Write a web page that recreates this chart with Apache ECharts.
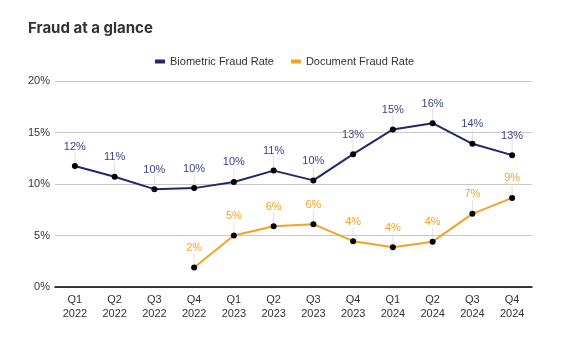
<!DOCTYPE html>
<html><head><meta charset="utf-8">
<script src="https://cdn.jsdelivr.net/npm/echarts@6/dist/echarts.min.js"></script>
<style>html,body{margin:0;padding:0;background:#fff}#c{width:576px;height:339px}</style>
</head><body><div id="c"></div>
<script>
const categories = ['Q1\n2022','Q2\n2022','Q3\n2022','Q4\n2022','Q1\n2023','Q2\n2023','Q3\n2023','Q4\n2023','Q1\n2024','Q2\n2024','Q3\n2024','Q4\n2024'];
const biometric = [11.75, 10.7, 9.5, 9.6, 10.2, 11.3, 10.35, 12.9, 15.3, 15.9, 13.9, 12.8];
const documentRate = [null, null, null, 1.9, 5.0, 5.9, 6.1, 4.45, 3.85, 4.4, 7.1, 8.65];
const yTicks = [0, 5, 10, 15, 20];

const navy = '#1f2a6b', orange = '#f2a325';
function mkSeries(name, data, color, textColor) {
  return {
    name, type: 'line', data, connectNulls: false,
    symbol: 'circle', symbolSize: 6,
    itemStyle: { color: '#000' },
    lineStyle: { color, width: 2 },
    label: {
      show: true, position: 'top', distance: 2,
      formatter: p => Math.round(p.value) + '%',
      color: textColor, fontSize: 11, fontFamily: 'Liberation Sans'
    },
    labelLayout: { dy: -9 },
    labelLine: { show: true, lineStyle: { color: '#e0e0e0', width: 1 } },
    emphasis: { disabled: true }
  };
}
const chart = echarts.init(document.getElementById('c'));
chart.setOption({
  animation: false,
  color: [navy, orange],
  title: { text: 'Fraud at a glance', left: 23, top: 16,
    textStyle: { fontSize: 15, fontWeight: 'bold', color: '#333', fontFamily: 'Inter' } },
  legend: { top: 51, left: 150, icon: 'rect', itemWidth: 10, itemHeight: 4, itemGap: 17,
    textStyle: { fontSize: 11, color: '#333', fontFamily: 'Liberation Sans' },
    data: [{name:'Biometric Fraud Rate', itemStyle:{color:navy}}, {name:'Document Fraud Rate', itemStyle:{color:orange}}] },
  grid: { left: 55, right: 44, top: 81, bottom: 52 },
  xAxis: { type: 'category', data: categories, boundaryGap: true,
    axisLine: { lineStyle: { color: '#000', width: 1.5 } }, axisTick: { show: false },
    axisLabel: { color: '#333', fontSize: 11, lineHeight: 14, margin: 6, fontFamily: 'Liberation Sans' } },
  yAxis: { type: 'value', min: yTicks[0], max: yTicks[yTicks.length-1], interval: 5,
    axisLabel: { formatter: v => v + '%', color: '#333', fontSize: 11, margin: 5, fontFamily: 'Liberation Sans' },
    splitLine: { lineStyle: { color: '#c8c8c8', width: 1 } }, axisLine: { show: false }, axisTick: { show: false } },
  series: [mkSeries('Biometric Fraud Rate', biometric, navy, '#3a4585'), mkSeries('Document Fraud Rate', documentRate, orange, '#f2a325')]
});
</script></body></html>
